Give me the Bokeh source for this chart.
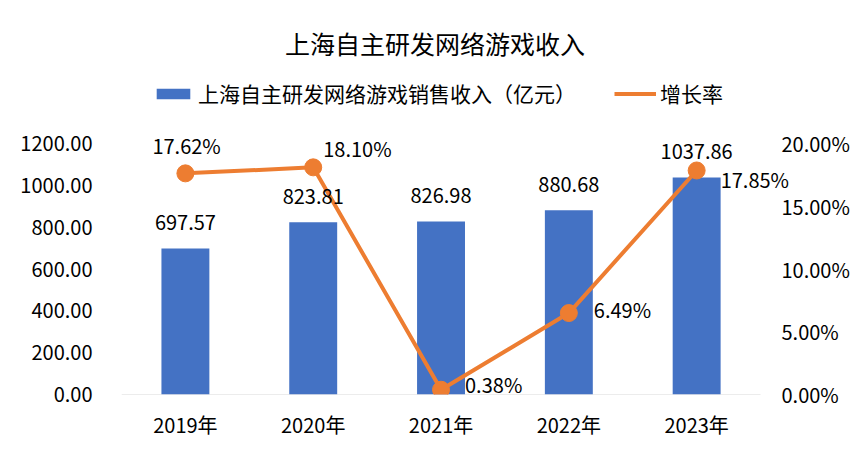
from bokeh.plotting import figure
from bokeh.models import (ColumnDataSource, Range1d, LinearAxis, FixedTicker,
                          LabelSet, Label, Legend, LegendItem, NumeralTickFormatter,
                          CustomJSTickFormatter)
from bokeh.embed import file_html
from bokeh.resources import INLINE
from bokeh.core.properties import value

# ---- data ----
years = ["2019年", "2020年", "2021年", "2022年", "2023年"]
revenue = [697.57, 823.81, 826.98, 880.68, 1037.86]        # 亿元
growth = [17.62, 18.10, 0.38, 6.49, 17.85]                  # %
left_ticks = [0, 200, 400, 600, 800, 1000, 1200]
right_ticks = [0, 5, 10, 15, 20]
title_text = "上海自主研发网络游戏收入"
bar_name = "上海自主研发网络游戏销售收入（亿元）"
line_name = "增长率"

# ---- layout (pixels) ----
FONT = "Noto Sans CJK SC"
W, H = 852, 443
FRAME_L, FRAME_R, FRAME_B = 121, 800, 394   # frame edges on the canvas
CAT_W = 128                                 # px per category
TOP_GAP = 143                               # px from canvas top to max tick
FRAME_H = FRAME_B
PLOT_H = FRAME_H - TOP_GAP
FRAME_W = FRAME_R - FRAME_L
BLUE = "#4472C4"
ORANGE = "#ED7D31"
TXT = "#000000"

n = len(years)
xs = [i + 0.5 for i in range(n)]
x_end = FRAME_W / CAT_W
y_end = left_ticks[-1] * FRAME_H / PLOT_H
y2_end = right_ticks[-1] * FRAME_H / PLOT_H
to_data = left_ticks[-1] / PLOT_H  # data units per px on left scale

p = figure(width=W, height=H, x_range=Range1d(0, x_end),
           y_range=Range1d(0, y_end), output_backend="svg", toolbar_location=None,
           min_border_left=FRAME_L, min_border_right=W - FRAME_R,
           min_border_bottom=H - FRAME_B, min_border_top=0)
p.outline_line_color = None
p.extra_y_ranges = {"pct": Range1d(0, y2_end)}

src = ColumnDataSource(dict(
    x=xs, rev=revenue, g=growth,
    rev_lbl=[f"{v:.2f}" for v in revenue],
    g_lbl=[f"{v:.2f}%" for v in growth],
))
# per-label placements of the growth labels (px)
src.data["dx"] = [-33, 10, 24, 25, 24]
src.data["dy"] = [28, 19, 5, 4, -9]

# baseline
p.segment(x0=[0], y0=[0], x1=[n], y1=[0], line_color="#D9D9D9", line_width=1)

bars = p.vbar(x="x", top="rev", width=0.375, source=src, fill_color=BLUE, line_color=None)
line = p.line(x="x", y="g", source=src, line_color=ORANGE, line_width=4, y_range_name="pct")
pts = p.scatter(x="x", y="g", source=src, size=17, fill_color=ORANGE, line_color=ORANGE,
                y_range_name="pct")
# legend-only marker (smaller)
leg_src = ColumnDataSource(dict(x=[], y=[]))
leg_pts = p.scatter(x="x", y="y", source=leg_src, size=12, fill_color=ORANGE, line_color=ORANGE)

# axes
p.xaxis.ticker = FixedTicker(ticks=xs)
p.xaxis.formatter = CustomJSTickFormatter(args=dict(labels=years),
                                          code="return labels[Math.floor(tick)];")
p.yaxis.ticker = FixedTicker(ticks=left_ticks)
p.yaxis.formatter = NumeralTickFormatter(format="0.00")
ax2 = LinearAxis(y_range_name="pct", ticker=FixedTicker(ticks=right_ticks),
                 formatter=CustomJSTickFormatter(code="return tick.toFixed(2) + '%';"))
p.add_layout(ax2, "right")
for ax in [p.xaxis[0], p.yaxis[0], ax2]:
    ax.axis_line_color = None
    ax.major_tick_line_color = None
    ax.minor_tick_line_color = None
    ax.major_tick_out = 0
    ax.major_tick_in = 0
    ax.major_label_text_font = FONT
    ax.major_label_text_font_size = "20px"
    ax.major_label_text_color = TXT
p.yaxis[0].major_label_standoff = 29
ax2.major_label_standoff = 782 - FRAME_R
p.xaxis[0].major_label_standoff = 15

p.xgrid.grid_line_color = None
p.ygrid.grid_line_color = None

# data labels
p.add_layout(LabelSet(x="x", y="rev", text="rev_lbl", source=src, y_offset=26,
                      text_align="center", text_baseline="middle",
                      text_font=value(FONT), text_font_size="20px", text_color=TXT))
p.add_layout(LabelSet(x="x", y="g", text="g_lbl", source=src, y_range_name="pct",
                      x_offset="dx", y_offset="dy",
                      text_align="left", text_baseline="middle",
                      text_font=value(FONT), text_font_size="20px", text_color=TXT))

# title
p.add_layout(Label(x=(435 - FRAME_L) / CAT_W, y=(FRAME_H - 42) * to_data, text=title_text,
                   text_align="center", text_baseline="middle",
                   text_font=FONT, text_font_size="25px", text_color=TXT))

# legend
legend = Legend(items=[LegendItem(label=bar_name, renderers=[bars]),
                       LegendItem(label=line_name, renderers=[line, leg_pts])],
                orientation="horizontal", location=(31, FRAME_H - 96 - 12),
                glyph_width=42, glyph_height=13, label_height=24, label_standoff=4,
                spacing=38, padding=0, margin=0, border_line_color=None,
                background_fill_alpha=0, label_text_font=FONT,
                label_text_font_size="21px", label_text_color=TXT)
p.add_layout(legend, "center")

open("out.html", "w").write(file_html(p, INLINE))
